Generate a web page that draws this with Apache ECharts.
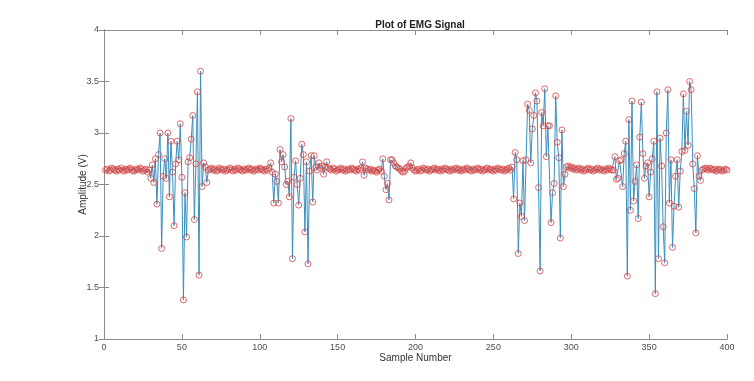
<!DOCTYPE html>
<html>
<head>
<meta charset="utf-8">
<script src="https://cdn.jsdelivr.net/npm/echarts@6/dist/echarts.min.js"></script>
<style>
html,body{margin:0;padding:0;background:#fff;}
#chart{width:754px;height:381px;}
</style>
</head>
<body>
<div id="chart"></div>
<script>
// ---- data (amplitude in V per sample) ----
var restA = [2.64,2.65,2.63,2.64,2.66,2.65,2.64,2.63,2.65,2.64,2.66,2.64,2.63,2.65,2.64,2.65,2.66,2.64,2.63,2.64,2.65,2.64,2.66,2.65,2.63,2.64,2.65,2.62,2.64];
var burst1 = [2.56,2.69,2.52,2.75,2.31,2.79,3.00,1.88,2.58,2.75,2.56,3.00,2.38,2.92,2.62,2.10,2.70,2.92,2.74,3.09,2.57,1.38,2.42,1.99,2.72,2.76,2.94,3.17,2.16,2.70,3.40,1.62,3.60,2.48,2.71,2.67,2.52,2.64];
var restB = [2.65,2.66,2.64,2.65,2.63,2.64,2.66,2.65,2.64,2.65,2.63,2.64,2.65,2.66,2.64,2.63,2.65,2.64,2.66,2.65,2.64,2.63,2.65,2.64,2.65,2.66,2.64,2.65,2.63,2.64,2.65,2.64,2.66,2.65,2.64,2.63,2.65,2.64,2.66];
var burst2 = [2.71,2.62,2.32,2.60,2.53,2.32,2.84,2.72,2.79,2.67,2.50,2.53,2.38,3.14,1.78,2.57,2.73,2.50,2.30,2.56,2.89,2.79,2.04,2.72,1.73,2.63,2.78,2.33,2.78,2.67,2.64,2.71,2.66,2.68,2.60,2.67,2.72,2.66];
var restC = [2.65,2.64,2.66,2.65,2.63,2.64,2.65,2.66,2.64,2.65,2.63,2.64,2.65,2.64,2.66,2.65,2.64,2.63,2.65,2.64,2.66];
var burst3 = [2.72,2.59,2.66,2.65,2.64,2.65,2.63,2.64,2.63,2.62,2.64,2.65,2.63,2.75,2.58,2.45,2.51,2.35,2.74,2.74,2.71,2.68,2.67,2.66,2.65,2.63,2.62,2.63,2.66,2.67,2.68,2.71,2.66,2.64,2.63];
var restD = [2.64,2.65,2.63,2.64,2.66,2.65,2.64,2.65,2.63,2.64,2.65,2.66,2.64,2.65,2.64,2.63,2.65,2.64,2.66,2.65,2.64,2.63,2.65,2.64,2.65,2.66,2.64,2.65,2.63,2.64,2.65,2.64,2.66,2.65,2.64,2.63,2.65,2.64,2.65,2.66,2.64,2.65,2.63,2.64,2.65,2.66,2.64,2.65,2.64,2.63,2.65,2.64,2.66,2.65,2.64,2.65,2.63,2.64,2.65,2.66,2.64];
var burst4 = [2.67,2.36,2.81,2.74,1.83,2.32,2.19,2.73,2.15,2.74,3.28,3.22,2.71,3.04,3.17,3.39,3.31,2.47,1.66,3.20,3.07,3.43,2.77,3.07,3.07,2.13,2.42,2.51,3.36,2.91,2.76,1.98,3.03,2.48,2.60,2.67,2.68];
var restE = [2.66,2.67,2.65,2.66,2.64,2.65,2.66,2.64,2.65,2.63,2.64,2.65,2.66,2.64,2.65,2.63,2.64,2.65,2.66,2.64,2.65,2.64,2.63,2.65,2.64,2.66,2.65,2.64];
var burst5 = [2.64,2.77,2.55,2.56,2.73,2.74,2.48,2.80,2.92,1.61,3.13,2.25,3.31,2.34,2.53,2.69,2.17,2.96,3.30,2.80,2.56,2.68,2.71,2.38,2.62,2.75,2.92,1.44,3.40,1.78,2.95,2.68,2.09,1.74,3.00,3.42,2.32,2.74,1.89,2.29,2.58,2.74,2.28,2.63,2.82,3.38,2.83,3.21,2.88,3.50,3.42,2.70,2.46,2.03,2.78,2.58,2.54,2.64];
var restF = [2.65,2.66,2.65,2.64,2.66,2.65,2.64,2.65,2.63,2.64,2.65,2.64,2.63,2.64,2.65,2.64];

var xTicks = [0,50,100,150,200,250,300,350,400];
var yTicks = [1,1.5,2,2.5,3,3.5,4];

var amplitude = [].concat(restA, burst1, restB, burst2, restC, burst3, restD, burst4, restE, burst5, restF);
var points = amplitude.map(function (v, i) { return [i + 1, v]; });

var axisCol = '#8c8c8c';
var labelCol = '#4d4d4d';
var font = 'Liberation Sans, Arial, sans-serif';

var chart = echarts.init(document.getElementById('chart'), null, {renderer: 'canvas'});
chart.setOption({
  animation: false,
  backgroundColor: '#fff',
  title: {
    text: 'Plot of EMG Signal',
    left: 415, top: 15, textAlign: 'center',
    textStyle: {fontFamily: font, fontSize: 10, fontWeight: 'bold', color: '#222'}
  },
  grid: {left: 104, right: 27, top: 30, bottom: 42, containLabel: false},
  xAxis: [{
    type: 'value', min: xTicks[0], max: xTicks[xTicks.length - 1], interval: 50,
    name: 'Sample Number', nameLocation: 'middle', nameGap: 14, nameMoveOverlap: false,
    nameTextStyle: {fontFamily: font, fontSize: 10, color: '#333'},
    axisLine: {show: true, lineStyle: {color: axisCol, width: 1}},
    axisTick: {show: true, inside: true, length: 5, lineStyle: {color: axisCol}},
    axisLabel: {fontFamily: font, fontSize: 9, color: labelCol, margin: 4},
    splitLine: {show: false}
  }, {
    type: 'value', position: 'top', min: xTicks[0], max: xTicks[xTicks.length - 1], interval: 50,
    axisLine: {show: true, lineStyle: {color: axisCol, width: 1}},
    axisTick: {show: true, inside: true, length: 5, lineStyle: {color: axisCol}},
    axisLabel: {show: false}, splitLine: {show: false}
  }],
  yAxis: [{
    type: 'value', min: yTicks[0], max: yTicks[yTicks.length - 1], interval: 0.5,
    name: 'Amplitude (V)', nameLocation: 'middle', nameGap: 16, nameRotate: 90, nameMoveOverlap: false,
    nameTextStyle: {fontFamily: font, fontSize: 10, color: '#333'},
    axisLine: {show: true, lineStyle: {color: axisCol, width: 1}},
    axisTick: {show: true, inside: true, length: 5, lineStyle: {color: axisCol}},
    axisLabel: {fontFamily: font, fontSize: 9, color: labelCol, margin: 5},
    splitLine: {show: false}
  }, {
    type: 'value', position: 'right', min: yTicks[0], max: yTicks[yTicks.length - 1], interval: 0.5,
    axisLine: {show: true, lineStyle: {color: axisCol, width: 1}},
    axisTick: {show: true, inside: true, length: 5, lineStyle: {color: axisCol}},
    axisLabel: {show: false}, splitLine: {show: false}
  }],
  series: [{
    type: 'line', data: points, showSymbol: false, symbol: 'none',
    lineStyle: {color: '#3a90bf', width: 1}, z: 2
  }, {
    type: 'scatter', data: points, symbol: 'circle', symbolSize: 6,
    itemStyle: {color: 'rgba(255,255,255,0)', borderColor: '#d44545', borderWidth: 1}, z: 3
  }]
});
</script>
</body>
</html>
